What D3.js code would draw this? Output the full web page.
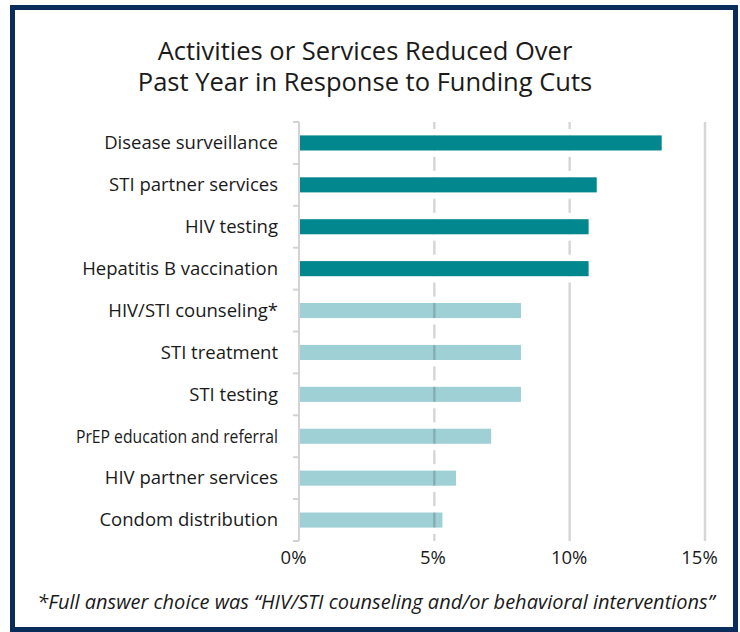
<!DOCTYPE html>
<html lang="en">
<head>
<meta charset="UTF-8">
<title>Activities or Services Reduced</title>
<script src="https://d3js.org/d3.v7.min.js"></script>
<style>
    body { margin: 0; background: #fff; }
    svg { display: block; }
    text { font-family: 'Open Sans', 'Noto Sans', sans-serif; fill: #1a1a1a; }
</style>
</head>
<body>
<svg id="chart"></svg>
<script>
// data
const categories = [
    "Disease surveillance",
    "STI partner services",
    "HIV testing",
    "Hepatitis B vaccination",
    "HIV/STI counseling*",
    "STI treatment",
    "STI testing",
    "PrEP education and referral",
    "HIV partner services",
    "Condom distribution"
];
const values = [13.4, 11.0, 10.7, 10.7, 8.2, 8.2, 8.2, 7.1, 5.8, 5.3];
const highlighted = [true, true, true, true, false, false, false, false, false, false];
const xTicks = [0, 5, 10, 15];
const titleLines = [
    "Activities or Services Reduced Over",
    "Past Year in Response to Funding Cuts"
];
const footnote = "*Full answer choice was \u201cHIV/STI counseling and/or behavioral interventions\u201d";

const width = 740, height = 632;
const darkColor = "#02878f", lightColor = "#9ed0d5";

const svg = d3.select("#chart").attr("width", width).attr("height", height);

// frame
svg.append("rect")
    .attr("x", 12.5).attr("y", 7.5)
    .attr("width", 723).attr("height", 622)
    .attr("fill", "#fff")
    .attr("stroke", "#0b2d5c")
    .attr("stroke-width", 5);

// title
svg.append("g").selectAll("text")
    .data(titleLines)
    .enter().append("text")
    .attr("x", 365)
    .attr("y", (d, i) => 60 + i * 31)
    .attr("text-anchor", "middle")
    .style("font-size", "25.5px")
    .text(d => d);

const x = d3.scaleLinear().domain([0, 15]).range([299, 705]);
const y = d3.scaleBand().domain(categories).range([122, 541])
    .paddingInner(0.64).paddingOuter(0.32);

const rows = categories.map((c, i) => ({ name: c, value: values[i], dark: highlighted[i] }));
const step = y.step();
const yTop = y.range()[0], yBottom = y.range()[1];
const halfDash = 7;

// light bars first, gridlines over them, dark bars on top
svg.append("g").selectAll("rect")
    .data(rows.filter(d => !d.dark))
    .enter().append("rect")
    .attr("x", x(0) + 1)
    .attr("y", d => y(d.name))
    .attr("width", d => x(d.value) - x(0) - 1)
    .attr("height", y.bandwidth())
    .attr("fill", lightColor);

// gridline segments: a dash across each category boundary + a piece across each bar
function dashedSegments(fromIndex, toIndex) {
    const segs = [];
    for (let i = fromIndex; i <= toIndex; i++) {
        const b = yTop + i * step;
        segs.push([Math.max(yTop, b - halfDash), Math.min(yBottom, b + halfDash)]);
        if (i < toIndex) segs.push([y(categories[i]), y(categories[i]) + y.bandwidth()]);
    }
    return segs;
}
const nDark = highlighted.filter(Boolean).length;
const grid = svg.append("g").attr("stroke", "rgba(0,0,0,0.16)").attr("stroke-width", 2.5);
xTicks.filter(t => t > 0).forEach(t => {
    let segs;
    if (t === 5) segs = dashedSegments(0, categories.length);
    else if (t === 10) segs = dashedSegments(0, nDark).slice(0, -1)
        .concat([[yTop + nDark * step - halfDash, yBottom]]);
    else segs = [[yTop, yBottom]];
    grid.selectAll(null)
        .data(segs)
        .enter().append("line")
        .attr("x1", x(t)).attr("x2", x(t))
        .attr("y1", d => d[0]).attr("y2", d => d[1]);
});

svg.append("g").selectAll("rect")
    .data(rows.filter(d => d.dark))
    .enter().append("rect")
    .attr("x", x(0) + 1)
    .attr("y", d => y(d.name))
    .attr("width", d => x(d.value) - x(0) - 1)
    .attr("height", y.bandwidth())
    .attr("fill", darkColor);

// left axis: line with ticks at category boundaries
const axisColor = "#d3d3d3";
const axisG = svg.append("g").attr("stroke", axisColor).attr("stroke-width", 2);
axisG.append("line")
    .attr("x1", x(0)).attr("x2", x(0))
    .attr("y1", yTop).attr("y2", yBottom);
axisG.selectAll(null)
    .data(d3.range(categories.length + 1))
    .enter().append("line")
    .attr("x1", x(0) - 6).attr("x2", x(0))
    .attr("y1", i => yTop + i * step).attr("y2", i => yTop + i * step);

// category labels
const maxLabelWidth = 202;
const yAxis = svg.append("g")
    .attr("transform", `translate(${x(0) - 21},0)`)
    .call(d3.axisLeft(y).tickSize(0).tickPadding(0));
yAxis.select(".domain").remove();
yAxis.selectAll("text")
    .style("font-size", "18.5px")
    .attr("fill", "#1a1a1a")
    .attr("dy", "0.34em")
    .each(function () {
        // long labels are set tighter in the original
        if (this.getComputedTextLength() > maxLabelWidth) {
            d3.select(this).attr("textLength", maxLabelWidth)
                .attr("lengthAdjust", "spacingAndGlyphs");
        }
    });

// x axis labels
const xAxis = svg.append("g")
    .attr("transform", `translate(0,${yBottom})`)
    .call(d3.axisBottom(x).tickValues(xTicks).tickSize(0).tickPadding(10)
        .tickFormat(d => d + "%"));
xAxis.select(".domain").remove();
xAxis.selectAll("text")
    .style("font-size", "18.5px")
    .attr("fill", "#1a1a1a")
    .attr("dx", (d, i) => [-6, -2, -1, -6][i]);

// footnote
svg.append("text")
    .attr("x", 376)
    .attr("y", 609)
    .attr("text-anchor", "middle")
    .style("font-size", "20px")
    .style("font-style", "italic")
    .text(footnote);
</script>
</body>
</html>
